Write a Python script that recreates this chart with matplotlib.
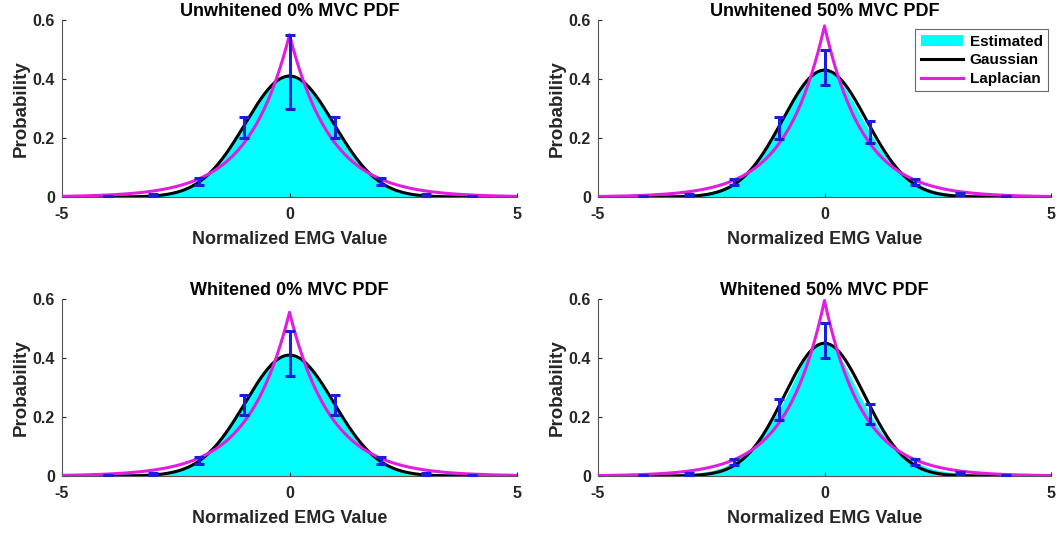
import numpy as np
import matplotlib.pyplot as plt

plt.rcParams['font.family'] = ['Liberation Sans', 'DejaVu Sans']
plt.rcParams['font.weight'] = 'bold'
plt.rcParams['axes.unicode_minus'] = False

# --- data -------------------------------------------------------------------

titles = ["Unwhitened 0% MVC PDF", "Unwhitened 50% MVC PDF",
          "Whitened 0% MVC PDF", "Whitened 50% MVC PDF"]

# grid of the estimated pdf
x_est = np.arange(-5, 5.01, 0.25)

est_unw_0 = [0.0, 0.0, 0.0005, 0.001, 0.001, 0.002, 0.003, 0.004, 0.007, 0.011, 0.018, 0.03, 0.05,
             0.08, 0.12, 0.175, 0.235, 0.30, 0.36, 0.40, 0.42, 0.40, 0.36, 0.30, 0.235, 0.175,
             0.12, 0.08, 0.05, 0.03, 0.018, 0.011, 0.007, 0.004, 0.003, 0.002, 0.001, 0.001,
             0.0005, 0.0, 0.0]
est_unw_50 = [0.0, 0.0, 0.0005, 0.001, 0.001, 0.002, 0.003, 0.005, 0.008, 0.012, 0.018, 0.03, 0.048,
              0.078, 0.12, 0.175, 0.235, 0.305, 0.37, 0.42, 0.44, 0.415, 0.36, 0.29, 0.22, 0.16,
              0.11, 0.075, 0.048, 0.03, 0.019, 0.013, 0.009, 0.005, 0.003, 0.002, 0.001, 0.001,
              0.0005, 0.0, 0.0]
est_whi_0 = [0.0, 0.0, 0.0005, 0.001, 0.001, 0.002, 0.003, 0.004, 0.007, 0.011, 0.019, 0.031, 0.052,
             0.082, 0.125, 0.18, 0.24, 0.305, 0.36, 0.40, 0.415, 0.40, 0.36, 0.305, 0.24, 0.18,
             0.125, 0.082, 0.052, 0.031, 0.019, 0.011, 0.007, 0.004, 0.003, 0.002, 0.001, 0.001,
             0.0005, 0.0, 0.0]
est_whi_50 = [0.0, 0.0, 0.0005, 0.001, 0.001, 0.002, 0.003, 0.005, 0.008, 0.012, 0.018, 0.029, 0.048,
              0.076, 0.115, 0.165, 0.225, 0.30, 0.38, 0.44, 0.46, 0.43, 0.36, 0.28, 0.21, 0.15,
              0.105, 0.072, 0.048, 0.03, 0.019, 0.013, 0.009, 0.005, 0.003, 0.002, 0.001, 0.001,
              0.0005, 0.0, 0.0]

# error bars at the integer bins
x_err = [-4, -3, -2, -1, 0, 1, 2, 3, 4]
mean_unw_0 = [0.001, 0.007, 0.052, 0.235, 0.425, 0.235, 0.052, 0.007, 0.001]
sd_unw_0 = [0.001, 0.003, 0.012, 0.035, 0.125, 0.035, 0.012, 0.003, 0.001]
mean_unw_50 = [0.001, 0.008, 0.05, 0.235, 0.44, 0.22, 0.05, 0.01, 0.001]
sd_unw_50 = [0.001, 0.003, 0.01, 0.037, 0.06, 0.037, 0.01, 0.003, 0.001]
mean_whi_0 = [0.001, 0.007, 0.053, 0.24, 0.415, 0.24, 0.052, 0.007, 0.001]
sd_whi_0 = [0.001, 0.003, 0.012, 0.033, 0.075, 0.033, 0.012, 0.003, 0.001]
mean_whi_50 = [0.001, 0.008, 0.048, 0.225, 0.46, 0.21, 0.048, 0.01, 0.001]
sd_whi_50 = [0.001, 0.003, 0.01, 0.035, 0.06, 0.033, 0.01, 0.003, 0.001]

# fitted model peaks (pdf value at 0)
gauss_peak = [0.41, 0.43, 0.41, 0.45]
laplace_peak = [0.55, 0.58, 0.555, 0.595]

estimated = [est_unw_0, est_unw_50, est_whi_0, est_whi_50]
means = [mean_unw_0, mean_unw_50, mean_whi_0, mean_whi_50]
sds = [sd_unw_0, sd_unw_50, sd_whi_0, sd_whi_50]

# --- plot -------------------------------------------------------------------

fig = plt.figure(figsize=(10.62, 5.33), dpi=100)
W, H = 1062, 533
boxes = [(62, 20, 517, 197), (598, 20, 1051, 197),
         (62, 299, 517, 476), (598, 299, 1051, 476)]

xx = np.linspace(-5, 5, 1001)

for i, (l, t, r, b) in enumerate(boxes):
    ax = fig.add_axes([l / W, 1 - b / H, (r - l) / W, (b - t) / H])

    sigma = 1 / (gauss_peak[i] * np.sqrt(2 * np.pi))
    scale = 1 / (2 * laplace_peak[i])
    gauss = np.exp(-xx ** 2 / (2 * sigma ** 2)) / (sigma * np.sqrt(2 * np.pi))
    lap = np.exp(-np.abs(xx) / scale) / (2 * scale)

    ax.fill_between(x_est, estimated[i], 0, color='#00ffff', lw=0, label='Estimated', zorder=1)
    ax.plot(xx, gauss, color='black', lw=2.2, label='Gaussian', zorder=3)
    ax.plot(xx, lap, color='#e01ee0', lw=2.2, label='Laplacian', zorder=4)
    ax.errorbar(x_err, means[i], yerr=sds[i], fmt='none', ecolor='#1c1cdc',
                elinewidth=2.2, capsize=3.5, capthick=2.2, zorder=5)

    ax.set_xlim(-5, 5)
    ax.set_ylim(0, 0.6)
    ax.set_xticks([-5, 0, 5])
    ax.set_yticks([0, 0.2, 0.4, 0.6])
    ax.set_yticklabels(['0', '0.2', '0.4', '0.6'])
    ax.tick_params(direction='in', length=3, labelsize=11.5, colors='#262626')
    ax.tick_params(axis='x', pad=7)
    ax.tick_params(axis='y', pad=5)
    for lab in ax.get_xticklabels() + ax.get_yticklabels():
        lab.set_fontweight('bold')
    for s in ['top', 'right']:
        ax.spines[s].set_visible(False)
    for s in ['left', 'bottom']:
        ax.spines[s].set_color('#555555')
        ax.spines[s].set_linewidth(0.8)
    ax.patch.set_visible(False)

    ax.set_title(titles[i], fontsize=13, fontweight='bold', pad=3)
    ax.set_xlabel('Normalized EMG Value', fontsize=13, fontweight='bold',
                  color='#262626', labelpad=7)
    ax.set_ylabel('Probability', fontsize=13.5, fontweight='bold',
                  color='#262626', labelpad=2)

    if i == 1:
        leg = ax.legend(loc='upper right', bbox_to_anchor=(1.01, 0.99), fontsize=11,
                        frameon=True, fancybox=False, handlelength=2.8,
                        borderpad=0.35, labelspacing=0.3, handletextpad=0.4)
        leg.get_frame().set_edgecolor('#444444')
        leg.get_frame().set_linewidth(0.8)
        for txt in leg.get_texts():
            txt.set_fontweight('bold')

fig.savefig('out.png', dpi=100)
